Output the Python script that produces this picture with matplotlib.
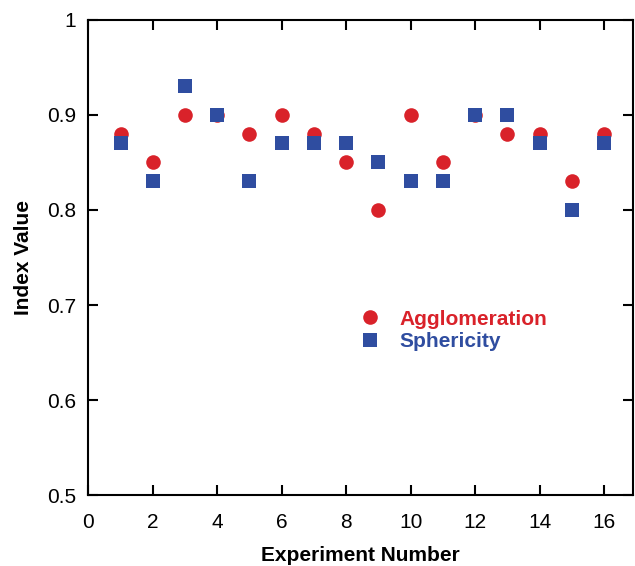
import matplotlib
matplotlib.use("Agg")
import matplotlib.pyplot as plt

plt.rcParams["font.family"] = ["Liberation Sans", "DejaVu Sans"]

# data
experiments = list(range(1, 17))
agglomeration = [0.88, 0.85, 0.90, 0.90, 0.88, 0.90, 0.88, 0.85,
                 0.80, 0.90, 0.85, 0.90, 0.88, 0.88, 0.83, 0.88]
sphericity = [0.87, 0.83, 0.93, 0.90, 0.83, 0.87, 0.87, 0.87,
              0.85, 0.83, 0.83, 0.90, 0.90, 0.87, 0.80, 0.87]
x_ticks = [0, 2, 4, 6, 8, 10, 12, 14, 16]
y_ticks = [0.5, 0.6, 0.7, 0.8, 0.9, 1.0]
y_labels = ["0.5", "0.6", "0.7", "0.8", "0.9", "1"]

RED = "#d9222a"
BLUE = "#2f4da0"

fig = plt.figure(figsize=(6.35, 5.66), dpi=100)
ax = fig.add_axes([0.139, 0.125, 0.858, 0.84])

ax.plot(experiments, agglomeration, "o", color=RED, markersize=10.5,
        markeredgewidth=0, label="Agglomeration")
ax.plot(experiments, sphericity, "s", color=BLUE, markersize=10.5,
        markeredgewidth=0, label="Sphericity")

ax.set_xlim(0, 16.9)
ax.set_ylim(0.5, 1.0)
ax.set_xticks(x_ticks)
ax.set_yticks(y_ticks)
ax.set_yticklabels(y_labels)
ax.tick_params(direction="in", top=True, right=True, length=7, width=1.5,
               labelsize=15, colors="black")
ax.tick_params(axis="x", pad=13)
ax.tick_params(axis="y", pad=9)
for s in ax.spines.values():
    s.set_linewidth(1.5)

ax.set_xlabel("Experiment Number", fontsize=15, fontweight="bold", labelpad=10)
ax.set_ylabel("Index Value", fontsize=15, fontweight="bold", labelpad=10)

leg = ax.legend(loc="center left", bbox_to_anchor=(0.495, 0.347), frameon=False,
                borderaxespad=0, borderpad=0,
                handletextpad=0.8, labelspacing=0.15, handlelength=1.2,
                prop={"weight": "bold", "size": 15})
for t, c in zip(leg.get_texts(), [RED, BLUE]):
    t.set_color(c)

fig.savefig("out.png", dpi=100)
